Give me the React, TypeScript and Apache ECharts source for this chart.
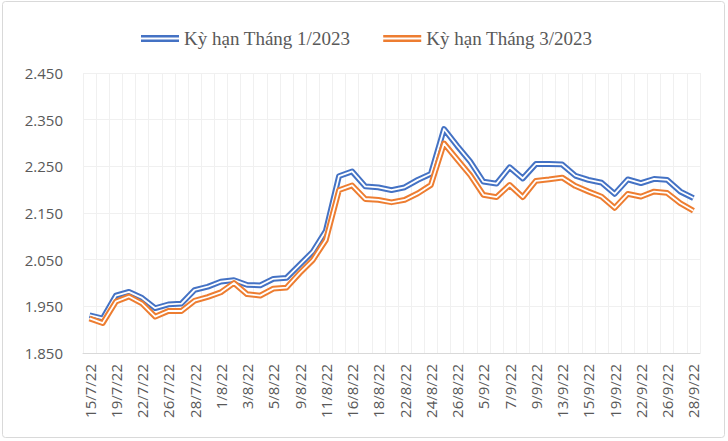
import React, { useEffect, useRef } from "react";
import * as echarts from "echarts";

const categories = [
  "15/7/22", "18/7/22", "19/7/22", "21/7/22", "22/7/22", "25/7/22", "26/7/22", "27/7/22",
  "28/7/22", "29/7/22", "1/8/22", "2/8/22", "3/8/22", "4/8/22", "5/8/22", "8/8/22",
  "9/8/22", "10/8/22", "11/8/22", "12/8/22", "16/8/22", "17/8/22", "18/8/22", "19/8/22",
  "22/8/22", "23/8/22", "24/8/22", "25/8/22", "26/8/22", "29/8/22", "5/9/22", "6/9/22",
  "7/9/22", "8/9/22", "9/9/22", "12/9/22", "13/9/22", "14/9/22", "15/9/22", "16/9/22",
  "19/9/22", "21/9/22", "22/9/22", "23/9/22", "26/9/22", "27/9/22", "28/9/22",
];

const seriesNames = ["Kỳ hạn Tháng 1/2023", "Kỳ hạn Tháng 3/2023"];

const jan2023 = [
  1931, 1924, 1973, 1981, 1968, 1946, 1954, 1956, 1985, 1992, 2003, 2006, 1996, 1995, 2009, 2011,
  2039, 2067, 2112, 2229, 2239, 2207, 2205, 2199, 2205, 2221, 2234, 2330, 2294, 2260, 2217, 2213,
  2248, 2224, 2255, 2255, 2254, 2230, 2221, 2215, 2191, 2222, 2214, 2223, 2221, 2196, 2182,
];

const mar2023 = [
  1924, 1914, 1960, 1971, 1956, 1928, 1940, 1940, 1962, 1970, 1980, 2000, 1976, 1973, 1988, 1990,
  2021, 2049, 2092, 2199, 2209, 2180, 2178, 2173, 2178, 2192, 2210, 2299, 2265, 2231, 2189, 2184,
  2210, 2184, 2219, 2222, 2226, 2208, 2196, 2185, 2161, 2191, 2185, 2196, 2193, 2171, 2155,
];

const yMin = 1850;
const yMax = 2450;
const yStep = 100;

const colors = ["#4472C4", "#ED7D31"];
const legendIcon = "path://M0,0H38V2.4H0Z M0,4.6H38V7H0Z";
const axisFont = "'Open Sans', 'Liberation Sans', sans-serif";

export default function App() {
  const ref = useRef<HTMLDivElement>(null);

  useEffect(() => {
    if (!ref.current) return;
    const chart = echarts.init(ref.current, null, { renderer: "svg" });
    const dataSets = [jan2023, mar2023];
    const series: any[] = [];
    dataSets.forEach((d, i) => {
      series.push({
        name: seriesNames[i],
        type: "line",
        data: d,
        showSymbol: false,
        symbol: "none",
        color: colors[i],
        lineStyle: { color: colors[i], width: 5.8, join: "round" },
        z: 2 + i * 2,
      });
      series.push({
        name: seriesNames[i] + "_inner",
        type: "line",
        data: d,
        showSymbol: false,
        symbol: "none",
        lineStyle: { color: "#ffffff", width: 1.8, join: "round" },
        z: 3 + i * 2,
        silent: true,
      });
    });

    chart.setOption({
      animation: false,
      backgroundColor: "#ffffff",
      graphic: [
        {
          type: "rect",
          shape: { x: 2.5, y: 1.5, width: 722, height: 436, r: 3 },
          style: { fill: "none", stroke: "#d9d9d9", lineWidth: 1 },
          silent: true,
          z: -10,
        },
      ],
      legend: {
        data: seriesNames.map((n) => ({ name: n, icon: legendIcon })),
        left: 136,
        top: 24,
        itemWidth: 38,
        itemHeight: 7,
        itemGap: 33,
        itemStyle: { borderWidth: 0 },
        textStyle: {
          fontFamily: "'Liberation Serif', serif",
          fontSize: 19,
          color: "#595959",
        },
      },
      grid: { left: 83, right: 28, top: 73, bottom: 88, containLabel: false },
      xAxis: {
        type: "category",
        data: categories,
        boundaryGap: true,
        axisLine: { show: true, lineStyle: { color: "#d9d9d9", width: 1 } },
        axisTick: { show: false, interval: 0 },
        axisLabel: {
          interval: 1,
          rotate: 90,
          margin: 11,
          fontFamily: axisFont,
          fontSize: 15,
          color: "#595959",
        },
        splitLine: { show: true, interval: 0, lineStyle: { color: "#f0f0f0", width: 1 } },
      },
      yAxis: {
        type: "value",
        min: yMin,
        max: yMax,
        interval: yStep,
        axisLine: { show: false },
        axisTick: { show: false },
        axisLabel: {
          margin: 20,
          fontFamily: axisFont,
          fontSize: 15,
          color: "#595959",
          formatter: (v: number) => (v / 1000).toFixed(3),
        },
        splitLine: { show: true, lineStyle: { color: "#f0f0f0", width: 1 } },
      },
      series,
    });

    return () => chart.dispose();
  }, []);

  return (
    <div
      ref={ref}
      style={{ position: "absolute", left: 0, top: 0, width: 728, height: 441, background: "#fff" }}
    />
  );
}
